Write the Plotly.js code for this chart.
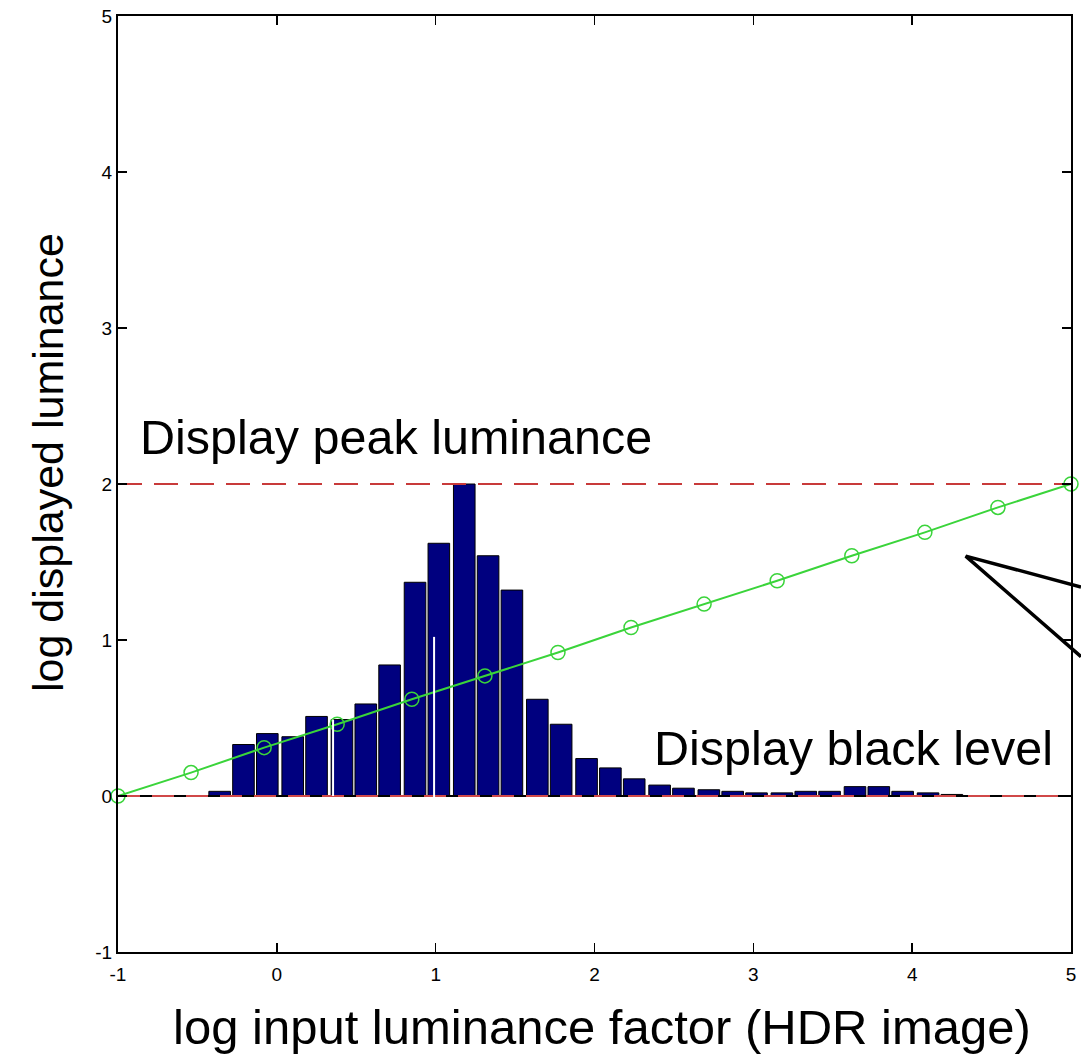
<!DOCTYPE html>
<html>
<head>
<meta charset="utf-8">
<script src="https://cdn.plot.ly/plotly-3.0.1.min.js"></script>
<style>html,body{margin:0;padding:0;background:#fff;}#chart{width:1081px;height:1059px;}</style>
</head>
<body>
<div id="chart"></div>
<script>
// Histogram of log input luminance (bin centres and bar heights)
const binCenters = [-0.36,-0.21,-0.06,0.10,0.25,0.41,0.56,0.71,0.87,1.02,1.18,1.33,1.48,1.64,1.79,1.95,2.10,2.25,2.41,2.56,2.72,2.87,3.02,3.18,3.33,3.48,3.64,3.79,3.94,4.10,4.25];
const binHeights = [0.03,0.33,0.40,0.38,0.51,0.49,0.59,0.84,1.37,1.62,2.00,1.54,1.32,0.62,0.46,0.24,0.18,0.11,0.07,0.05,0.04,0.03,0.02,0.02,0.03,0.03,0.06,0.06,0.03,0.02,0.01];

// Tone curve (green, with circle markers)
const curveX = [-1,-0.54,-0.08,0.38,0.85,1.31,1.77,2.23,2.69,3.15,3.62,4.08,4.54,5];
const curveY = [0,0.15,0.31,0.46,0.62,0.77,0.92,1.08,1.23,1.38,1.54,1.69,1.85,2];

// Display limits
const limitX = [-1, 5];
const peakLevel = [2, 2];
const blackLevel = [0, 0];

// Axis ticks
const xTicks = [-1,0,1,2,3,4,5];
const yTicks = [-1,0,1,2,3,4,5];

const xTitle = 'log input luminance factor (HDR image)';
const yTitle = 'log displayed luminance';

const FONT = "Liberation Sans, Arial, Helvetica, sans-serif";

const traces = [
  {type:'bar', x:binCenters, y:binHeights, width:0.136,
   marker:{color:'#00007f', line:{color:'#000000', width:1}}, hoverinfo:'skip'},
  {type:'scatter', mode:'lines', x:limitX, y:blackLevel, line:{color:'#000000', width:2}, hoverinfo:'skip'},
  {type:'scatter', mode:'lines', x:limitX, y:blackLevel, line:{color:'#d04848', width:2, dash:'22px,12px'}, hoverinfo:'skip'},
  {type:'scatter', mode:'lines', x:limitX, y:peakLevel, line:{color:'#c83a3a', width:2, dash:'24px,12px'}, hoverinfo:'skip'},
  {type:'scatter', mode:'lines+markers', x:curveX, y:curveY, cliponaxis:false,
   line:{color:'#3ad43a', width:2},
   marker:{symbol:'circle-open', size:14, color:'#3ad43a', line:{width:1.5, color:'#3ad43a'}}, hoverinfo:'skip'}
];

const axisCommon = {
  showgrid:false, zeroline:false, showline:true, linecolor:'#000', linewidth:2,
  mirror:'ticks', ticks:'inside', ticklen:9, tickwidth:1.5, tickcolor:'#000',
  tickfont:{family:FONT, size:19, color:'#000'}
};

const layout = {
  width:1081, height:1059,
  margin:{l:118, r:10, t:16, b:107, pad:0},
  paper_bgcolor:'#fff', plot_bgcolor:'#fff',
  showlegend:false,
  bargap:0,
  xaxis: Object.assign({}, axisCommon, {
    range:[-1,5], tickvals:xTicks, ticktext:xTicks.map(String), ticklabelstandoff:4
  }),
  yaxis: Object.assign({}, axisCommon, {
    range:[-1,5], tickvals:yTicks, ticktext:yTicks.map(String)
  }),
  annotations:[
    {text:xTitle, x:(601.5-118)/953, y:-(1027-952)/936, xref:'paper', yref:'paper', xanchor:'center', yanchor:'middle',
     showarrow:false, font:{family:FONT, size:49, color:'#000'}},
    {text:yTitle, x:-(118-48)/953, y:(952-463)/936, xref:'paper', yref:'paper', xanchor:'center', yanchor:'middle',
     textangle:-90, showarrow:false, font:{family:FONT, size:43, color:'#000'}},
    {text:'Display peak luminance', x:-0.874, y:2.30, xref:'x', yref:'y', xanchor:'left', yanchor:'middle',
     showarrow:false, font:{family:FONT, size:48.5, color:'#000'}},
    {text:'Display black level', x:4.90, y:0.31, xref:'x', yref:'y', xanchor:'right', yanchor:'middle',
     showarrow:false, font:{family:FONT, size:48.5, color:'#000'}}
  ],
  shapes:[
    // callout pointer running off the right edge
    {type:'path', xref:'paper', yref:'paper', path:'M 1.0105 0.390 L 0.8895 0.423 L 1.0105 0.3155',
     line:{color:'#000', width:3.5}, fillcolor:'rgba(0,0,0,0)'},
    // thin white scan artefacts through two bars
    {type:'line', xref:'x', yref:'y', x0:0.354, x1:0.354, y0:0, y1:0.49, line:{color:'#fff', width:2}},
    {type:'line', xref:'x', yref:'y', x0:0.99, x1:0.99, y0:-0.03, y1:1.02, line:{color:'#fff', width:2}}
  ]
};

Plotly.newPlot('chart', traces, layout, {staticPlot:true, displayModeBar:false});
</script>
</body>
</html>
